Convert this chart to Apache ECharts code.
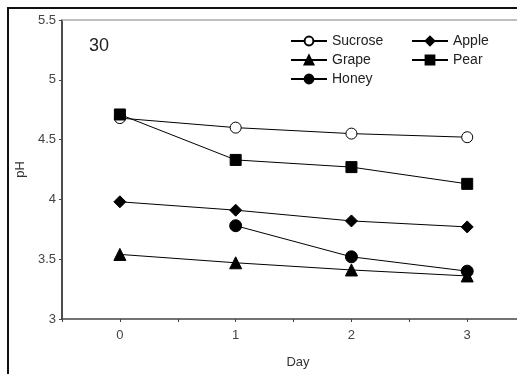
<!DOCTYPE html>
<html>
<head>
<meta charset="utf-8">
<script src="https://cdn.jsdelivr.net/npm/echarts@6/dist/echarts.min.js"></script>
<style>
	html, body { margin: 0; padding: 0; background: #fff; }
	#chart { width: 517px; height: 374px; }
</style>
</head>
<body>
<div id="chart"></div>
<script>
	// values
	var days = [0, 1, 2, 3];
	var sucrose = [4.68, 4.60, 4.55, 4.52];
	var apple = [3.98, 3.91, 3.82, 3.77];
	var grape = [3.54, 3.47, 3.41, 3.36];
	var pear = [4.71, 4.33, 4.27, 4.13];
	var honey = [null, 3.78, 3.52, 3.40];
	var yTicks = [3, 3.5, 4, 4.5, 5, 5.5];

	function pairs(vals) {
		var out = [];
		days.forEach(function(d, i) {
			if (vals[i] != null) out.push([d, vals[i]]);
		});
		return out;
	}

	function line(name, vals, symbol, size, fill) {
		return {
			name: name,
			type: 'line',
			data: pairs(vals),
			symbol: symbol,
			symbolSize: size,
			showAllSymbol: true,
			lineStyle: { color: '#000', width: 1 },
			itemStyle: { color: fill, borderColor: '#000', borderWidth: 1 },
			emphasis: { disabled: true },
			animation: false
		};
	}

	var font = 'Arial, "Liberation Sans", "Noto Sans CJK KR", sans-serif';
	var myChart = echarts.init(document.getElementById('chart'));

	var legendBase = {
		orient: 'vertical',
		top: 29,
		itemWidth: 36,
		itemHeight: 11,
		itemGap: 5,
		textStyle: { fontFamily: font, fontSize: 14, color: '#222' },
		selectedMode: false
	};

	var option = {
		backgroundColor: '#fff',
		animation: false,
		grid: { left: 62, right: 0, top: 20, bottom: 53 },
		legend: [
			Object.assign({}, legendBase, { left: 285, data: ['Sucrose', 'Grape', 'Honey'] }),
			Object.assign({}, legendBase, { left: 406, data: ['Apple', 'Pear'] })
		],
		graphic: [
			{
				type: 'rect',
				shape: { x: 8, y: 8, width: 700, height: 600 },
				style: { fill: 'none', stroke: '#111', lineWidth: 2 },
				silent: true
			},
			{
				type: 'text',
				left: 89,
				top: 37,
				style: { text: '30', font: '18px ' + font, fill: '#222' }
			}
		],
		xAxis: [
			{
				type: 'value',
				min: -0.5,
				max: 3.43,
				interval: 0.5,
				name: 'Day',
				nameLocation: 'middle',
				nameGap: 37,
				nameTextStyle: { fontFamily: font, fontSize: 13, color: '#333', padding: [0, 0, 0, 17] },
				axisLine: { onZero: false, lineStyle: { color: '#444', width: 1.5 } },
				axisTick: { show: true, length: 3, lineStyle: { color: '#444' } },
				axisLabel: {
					fontFamily: font, fontSize: 13, color: '#444', margin: 10,
					showMaxLabel: false,
					formatter: function(v) {
						return (v >= 0 && v <= 3 && Math.abs(v - Math.round(v)) < 1e-6) ? String(Math.round(v)) : '';
					}
				},
				splitLine: { show: false }
			},
			{
				type: 'value',
				position: 'top',
				min: -0.5,
				max: 3.43,
				axisLine: { show: true, onZero: false, lineStyle: { color: '#aaa', width: 1.5 } },
				axisTick: { show: false },
				axisLabel: { show: false },
				splitLine: { show: false }
			}
		],
		yAxis: {
			type: 'value',
			min: yTicks[0],
			max: yTicks[yTicks.length - 1],
			interval: 0.5,
			name: 'pH',
			nameLocation: 'middle',
			nameGap: 34,
			nameTextStyle: { fontFamily: font, fontSize: 13, color: '#333' },
			axisLine: { show: true, onZero: false, lineStyle: { color: '#111', width: 1.5 } },
			axisTick: { show: true, length: 3, lineStyle: { color: '#444' } },
			axisLabel: { fontFamily: font, fontSize: 13, color: '#444', margin: 6 },
			splitLine: { show: false }
		},
		series: [
			line('Sucrose', sucrose, 'circle', 11, '#fff'),
			line('Apple', apple, 'diamond', 12, '#000'),
			line('Grape', grape, 'triangle', 12, '#000'),
			line('Pear', pear, 'rect', 11, '#000'),
			line('Honey', honey, 'circle', 12, '#000')
		]
	};

	myChart.setOption(option);
</script>
</body>
</html>
